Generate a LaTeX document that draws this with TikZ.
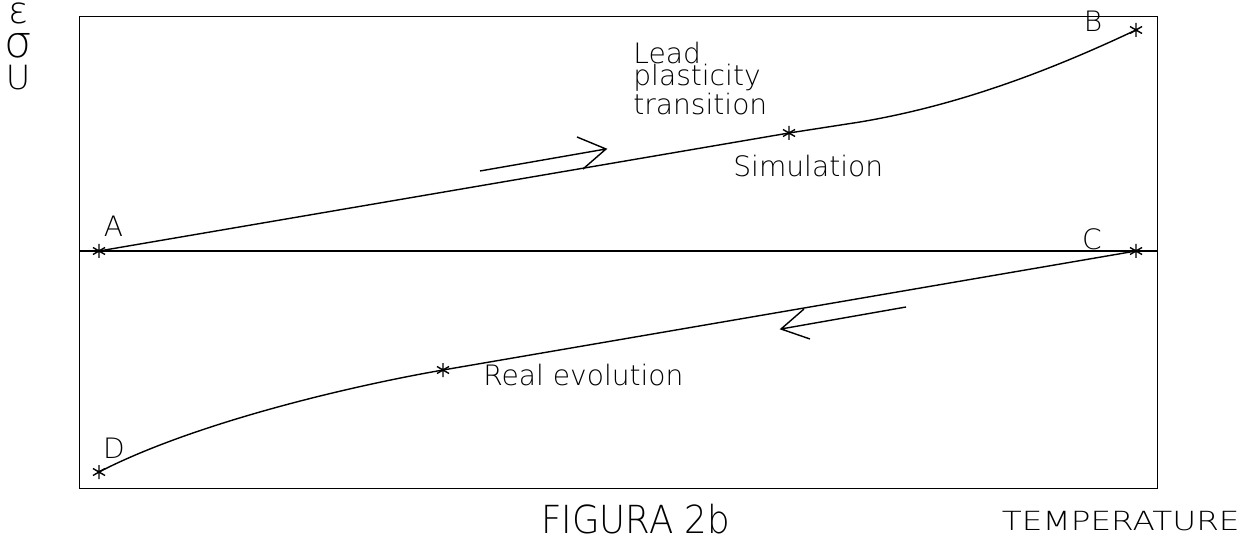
\documentclass[tikz,border=0pt]{standalone}
\usepackage{fontspec}
\setmainfont{DejaVu Sans ExtraLight}
\tikzset{
  ln/.style={line width=0.8pt, black},
  lbl/.style={inner sep=0pt, font=\fontsize{16}{16}\selectfont, text=black},
  astmark/.pic={\draw[line width=0.8pt] (0,-7)--(0,7) (-6,-3.5)--(6,3.5) (-6,3.5)--(6,-3.5);}
}
\begin{document}
\begin{tikzpicture}[x=0.02cm,y=-0.02cm]
\useasboundingbox (0,0) rectangle (1253,540);
% frame
\node[draw, ln, minimum width=21.56cm, minimum height=9.44cm, anchor=north west, inner sep=0pt] (frame) at (79,16) {};
% points
\coordinate (A) at (99,251);
\coordinate (B) at (1136,30);
\coordinate (C) at (1136,251);
\coordinate (D) at (99,472);
\coordinate (S) at (789,133);
\coordinate (R) at (443,370);
\coordinate (L) at (79,251);
\coordinate (Rt) at (1157,251);
\coordinate (U) at (860,122);
% axis line
\draw[ln] (L) -- (Rt);
% simulation curve
\draw[ln] (A) -- (S) -- (U) .. controls (955,106) and (1045,73) .. (B);
% real evolution curve
\draw[ln] (C) -- (R) .. controls (340,388) and (190,425) .. (D);
% markers
\foreach \p in {A,B,C,D,S,R} \pic at (\p) {astmark};
% arrows
\coordinate (a1s) at (480,171); \coordinate (a1t) at (606,149);
\coordinate (a1b1) at (577,137); \coordinate (a1b2) at (583,169);
\draw[ln] (a1s) -- (a1t) (a1b1) -- (a1t) -- (a1b2);
\coordinate (a2s) at (906,307); \coordinate (a2t) at (781,329);
\coordinate (a2b1) at (804,309); \coordinate (a2b2) at (810,339);
\draw[ln] (a2s) -- (a2t) (a2b1) -- (a2t) -- (a2b2);
% labels
\node[lbl, anchor=base] (lA) at (113.5,237) {A};
\node[lbl, anchor=base] (lB) at (1093,32) {B};
\node[lbl, anchor=base] (lC) at (1092,250) {C};
\node[lbl, anchor=base] (lD) at (114,458) {D};
\node[lbl, anchor=north west, align=left, font=\fontsize{16}{12.5}\selectfont] (lead) at (633,42) {Lead\\plasticity\\transition};
\node[lbl, anchor=base west] (sim) at (733,177) {Simulation};
\node[lbl, anchor=base west] (real) at (483,385) {Real evolution};
\node[lbl, anchor=base west, font=\fontsize{22}{22}\selectfont, xscale=0.92] (fig) at (541,533) {FIGURA 2b};
\node[lbl, anchor=base east, font=\fontsize{15}{15}\selectfont, xscale=1.24] (temp) at (1240,530) {TEMPERATURE};
\node[lbl, anchor=base, font=\fontsize{21}{21}\selectfont] (eps) at (18,24) {ε};
\node[lbl, anchor=base, font=\fontsize{25}{25}\selectfont] (sig) at (18,58) {σ};
\node[lbl, anchor=base, font=\fontsize{19}{19}\selectfont] (ups) at (18,90) {U};
\end{tikzpicture}
\end{document}
